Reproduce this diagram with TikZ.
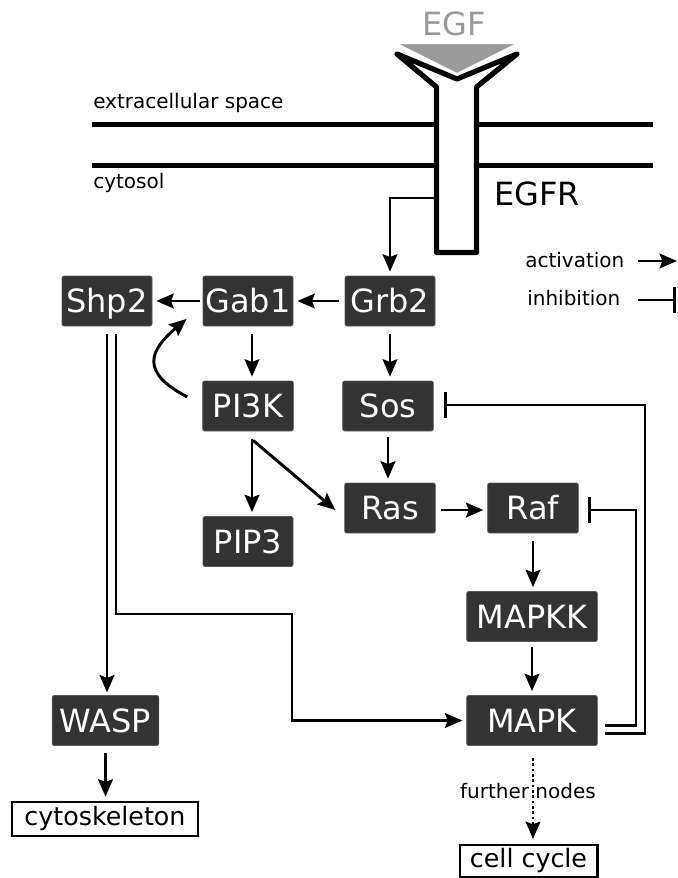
\documentclass[tikz,border=0pt]{standalone}
\usepackage{fontspec}
\setmainfont{DejaVu Sans}
\usetikzlibrary{arrows.meta,calc}
\definecolor{boxc}{HTML}{333333}
\definecolor{boxe}{HTML}{5A5A5A}
\definecolor{egfc}{HTML}{9A9A9A}
\begin{document}
\begin{tikzpicture}[x=0.75pt,y=-0.75pt,
  box/.style={fill=boxc, draw=boxe, line width=0.5pt, rounded corners=1.5pt,
    text=white, font=\fontsize{24}{28}\selectfont, minimum height=37.5pt,
    text height=17.5pt, text depth=0pt, inner sep=0pt},
  outbox/.style={draw=black, line width=2pt, fill=white,
    font=\fontsize{19}{22}\selectfont, inner sep=0pt},
  lbl/.style={font=\fontsize{15}{18}\selectfont, inner sep=0pt},
  tipa/.tip={Stealth[length=13pt,width=11pt,inset=2pt]},
  act/.style={-tipa, line width=2.2pt,
    shorten <=4pt, shorten >=3pt},
  inh/.style={-{Bar[width=19pt,line width=2pt]}, line width=1.9pt},
  memb/.style={line width=3.9pt}
]
\useasboundingbox (0,0) rectangle (678,878);

% membrane
\coordinate (m1a) at (92,124.5); \coordinate (m1b) at (653,124.5);
\coordinate (m2a) at (92,165.5); \coordinate (m2b) at (653,165.5);
\draw[memb] (m1a) -- (m1b);
\draw[memb] (m2a) -- (m2b);
\node[lbl, anchor=base west] (ext) at (93,108) {extracellular space};
\node[lbl, anchor=base west] (cyt) at (93,188) {cytosol};

% receptor
\draw[line width=3.9pt, line join=round, fill=white]
  (397,54) -- (436.5,87) -- (436.5,252.5) -- (476.5,252.5) -- (476.5,87)
  -- (517,54) -- (457,79) -- cycle;
\fill[egfc, draw=white, line width=1.5pt, line join=round]
  (395,43) -- (519,43) -- (457,74) -- cycle;
\node[font=\fontsize{24}{28}\selectfont, text=egfc, anchor=base, inner sep=0pt]
  (egf) at (454,35) {EGF};
\node[font=\fontsize{24}{28}\selectfont, anchor=base west, inner sep=0pt]
  (egfr) at (494,205) {EGFR};
\coordinate (rec) at (436.5,198);

% legend
\node[lbl, anchor=base west] (lact) at (525,267) {activation};
\node[lbl, anchor=base west] (linh) at (527,305) {inhibition};
\coordinate (la1) at (638,261); \coordinate (la2) at (677,261);
\coordinate (li1) at (638,300); \coordinate (li2) at (676,300);
\draw[act, shorten <=0pt, shorten >=0pt] (la1) -- (la2);
\draw[inh] (li1) -- (li2);

% nodes
\node[box, minimum width=67.5pt] (Shp2) at (107,301) {Shp2};
\node[box, minimum width=67.5pt] (Gab1) at (248,301) {Gab1};
\node[box, minimum width=67.5pt] (Grb2) at (390,301) {Grb2};
\node[box, minimum width=68pt] (PI3K) at (248,406) {PI3K};
\node[box, minimum width=68pt] (Sos) at (388,406) {Sos};
\node[box, minimum width=68pt] (Ras) at (390,508) {Ras};
\node[box, minimum width=68pt] (Raf) at (533,508) {Raf};
\node[box, minimum width=67.5pt] (PIP3) at (248,541.5) {PIP3};
\node[box, minimum width=98pt] (MAPKK) at (532,616.5) {MAPKK};
\node[box, minimum width=98pt] (MAPK) at (532,720.5) {MAPK};
\node[box, minimum width=80pt] (WASP) at (105.5,720.5) {WASP};
\node[outbox, minimum width=139.5pt, minimum height=25.5pt] (cyto) at (105,819) {cytoskeleton};
\node[outbox, minimum width=103pt, minimum height=24pt] (cc) at (528.5,861) {cell cycle};

% connectors
\draw[act, shorten <=0pt] (rec) -| (Grb2.north);
\draw[act] (Grb2.west) -- (Gab1.east);
\draw[act, shorten <=2pt] (Gab1.west) -- (Shp2.east);
\draw[act, shorten <=6pt] ([xshift=3pt]Gab1.south) -- ([xshift=3pt]PI3K.north);
\draw[act, shorten <=6pt] (Grb2.south) -- (Grb2.south |- Sos.north);
\draw[act, shorten <=4.5pt] (Sos.south) -- (Sos.south |- Ras.north);
\draw[act, shorten <=6pt] ([xshift=3pt]PI3K.south) -- ([xshift=3pt]PIP3.north);
\draw[act, shorten <=0pt, shorten >=0pt] ($(PI3K.south)+(5,9)$) -- ($(Ras.west)+(-9,2)$);
\draw[act] ([yshift=-1.5pt]Ras.east) -- ([yshift=-1.5pt]Raf.west);
\draw[act, shorten <=6pt] (Raf.south) -- (Raf.south |- MAPKK.north);
\draw[act] (MAPKK.south) -- (MAPKK.south |- MAPK.north);
\draw[act, shorten <=6pt, shorten >=2pt] (Shp2.south) -- (Shp2.south |- WASP.north);
\coordinate (k1) at (292,614);
\draw[act, shorten <=6pt] ([xshift=6.75pt]Shp2.south) |- (k1) |- (MAPK.west);
\draw[act, shorten <=5pt] (WASP.south) -- (WASP.south |- cyto.north);
\draw[act, shorten <=0pt] ($(PI3K.west)+(-15,-9)$)
  .. controls ($(PI3K.west)+(-63,-34)$) and ($(Gab1.south west)+(-53,24)$)
  .. ($(Gab1.south west)+(-13,-10)$);
\draw[-tipa, line width=2.2pt,
  dash pattern=on 2.2pt off 1.8pt, shorten <=9pt, shorten >=3.5pt]
  ([xshift=0.75pt]MAPK.south) -- ([xshift=0.75pt]MAPK.south |- cc.north);
\node[lbl, anchor=base] (fn) at (528,798) {further nodes};

% inhibitions
\coordinate (r1) at (636,510);
\coordinate (s1) at (645,405);
\draw[inh, shorten <=5.5pt, shorten >=7pt] ([yshift=-3.75pt]MAPK.east) -| (r1) -- (Raf.east |- r1);
\draw[inh, shorten <=5.5pt, shorten >=7.9pt] ([yshift=-9.75pt]MAPK.east) -| (s1) -- (Sos.east |- s1);
\end{tikzpicture}
\end{document}
